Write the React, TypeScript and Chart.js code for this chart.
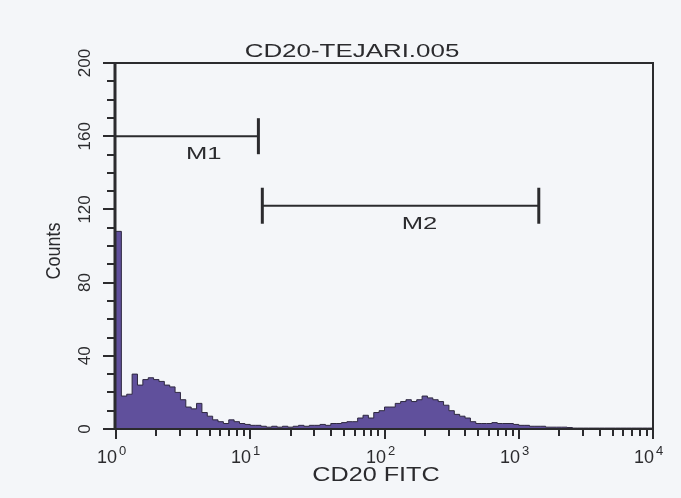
import React, { useEffect, useRef } from 'react';
import { Chart, registerables } from 'chart.js';

Chart.register(...registerables);

// ---- data ----
const title = 'CD20-TEJARI.005';
const xAxisLabel = 'CD20 FITC';
const yAxisLabel = 'Counts';
const binWidthDecades = 0.04; // log-amplifier channel width (4 decades / 100 bins)
const counts = [
  108, 18, 19, 30, 24, 27, 28, 27, 26, 24,
  23, 20, 16, 12, 11, 14, 9, 7, 5, 4,
  3, 5, 4, 3, 2.5, 2, 2, 1.5, 1, 1.5,
  1, 1.5, 1, 1.5, 2, 1.5, 2, 2, 2.5, 2,
  3, 3, 3.5, 4, 4, 6, 7.5, 6, 9, 10,
  12, 12, 14, 15, 16, 15, 16, 18, 17, 16,
  15, 13, 10, 8, 7, 6, 4, 3, 3, 3,
  3.5, 3, 3, 3, 2.5, 2, 2, 1.5, 1.5, 1.5,
  1, 1, 1, 1, 0.8, 0.5, 0.5, 0.5, 0.5, 0.5,
  0.5, 0.5, 0.5, 0.5, 0.5, 0.5, 0.5, 0.5, 0.5, 0.5,
  0,
];
const xMin = 1;
const xMax = 10000;
const xTickExponents = [0, 1, 2, 3, 4];
const xMinorMultipliers = [2, 3, 4, 5, 6, 7, 8, 9];
const yMin = 0;
const yMax = 200;
const yTickLabels = [0, 40, 80, 120, 160, 200];
const yMinorStep = 10;
const markerNames = ['M1', 'M2'];
const markerStarts = [1, 12.3];
const markerEnds = [11.5, 1410];
const markerLevels = [160, 122];
const markerLabelX = [4.5, 182];

// ---- styles ----
const BG = '#f4f6f9';
const INK = '#2b2b2e';
const FILL = 'rgb(96,80,156)';
const EDGE = '#2e2840';
const FONT = '"Liberation Sans", Arial, Helvetica, sans-serif';

function drawText(
  ctx: CanvasRenderingContext2D,
  s: string,
  x: number,
  y: number,
  size: number,
  o: { sx?: number; sy?: number; align?: CanvasTextAlign; baseline?: CanvasTextBaseline; rot?: number } = {}
) {
  ctx.save();
  ctx.translate(x, y);
  if (o.rot) ctx.rotate(o.rot);
  ctx.scale(o.sx ?? 1, o.sy ?? 1);
  ctx.font = `${size}px ${FONT}`;
  ctx.fillStyle = INK;
  ctx.textAlign = o.align ?? 'center';
  ctx.textBaseline = o.baseline ?? 'alphabetic';
  ctx.fillText(s, 0, 0);
  ctx.restore();
}

const overlay = {
  id: 'overlay',
  beforeDraw(chart: any) {
    const { ctx, width, height } = chart;
    ctx.save();
    ctx.fillStyle = BG;
    ctx.fillRect(0, 0, width, height);
    ctx.restore();
  },
  afterDatasetsDraw(chart: any) {
    const { ctx, chartArea: a } = chart;
    const xs = chart.scales.x;
    const ys = chart.scales.y;
    ctx.save();
    ctx.strokeStyle = INK;
    ctx.lineCap = 'butt';

    // frame
    ctx.lineWidth = 2;
    ctx.beginPath();
    ctx.moveTo(a.left, a.top);
    ctx.lineTo(a.right, a.top);
    ctx.lineTo(a.right, a.bottom);
    ctx.lineTo(a.left - 2, a.bottom);
    ctx.stroke();
    ctx.lineWidth = 3;
    ctx.beginPath();
    ctx.moveTo(a.left - 1, a.top - 1);
    ctx.lineTo(a.left - 1, a.bottom + 1);
    ctx.stroke();

    // y ticks
    ctx.lineWidth = 2;
    for (let v = yMin; v <= yMax; v += yMinorStep) {
      const py = Math.round(ys.getPixelForValue(v));
      const major = yTickLabels.includes(v);
      ctx.beginPath();
      ctx.moveTo(a.left - 2, py);
      ctx.lineTo(a.left - 2 - (major ? 11 : 7), py);
      ctx.stroke();
    }
    yTickLabels.forEach((v) => {
      const py = ys.getPixelForValue(v);
      drawText(ctx, String(v), 90, py, 17, { rot: -Math.PI / 2 });
    });

    // x ticks
    xTickExponents.forEach((e) => {
      const base = Math.pow(10, e);
      const px = Math.round(xs.getPixelForValue(base));
      ctx.beginPath();
      ctx.moveTo(px, a.bottom);
      ctx.lineTo(px, a.bottom + 10);
      ctx.stroke();
      if (base < xMax) {
        xMinorMultipliers.forEach((m) => {
          const p = Math.round(xs.getPixelForValue(m * base));
          ctx.beginPath();
          ctx.moveTo(p, a.bottom);
          ctx.lineTo(p, a.bottom + 7);
          ctx.stroke();
        });
      }
      drawText(ctx, '10', px + 1, 463, 18, { align: 'right' });
      drawText(ctx, String(e), px + 3, 455, 13, { align: 'left' });
    });

    // markers
    markerNames.forEach((name, i) => {
      const x0 = xs.getPixelForValue(markerStarts[i]);
      const x1 = xs.getPixelForValue(markerEnds[i]);
      const py = ys.getPixelForValue(markerLevels[i]);
      ctx.lineWidth = 2;
      ctx.beginPath();
      ctx.moveTo(x0, py);
      ctx.lineTo(x1, py);
      ctx.stroke();
      ctx.lineWidth = 3;
      const ends = markerStarts[i] > xMin ? [x0, x1] : [x1];
      ends.forEach((ex) => {
        ctx.beginPath();
        ctx.moveTo(ex, py - 18);
        ctx.lineTo(ex, py + 18);
        ctx.stroke();
      });
      drawText(ctx, name, xs.getPixelForValue(markerLabelX[i]), py + 23, 16, { sx: 1.6 });
    });

    // titles
    drawText(ctx, title, 352, 57, 18, { sx: 1.44 });
    drawText(ctx, xAxisLabel, 376, 481, 20, { sx: 1.26 });
    drawText(ctx, yAxisLabel, 60, 251, 18, { rot: -Math.PI / 2, sy: 1.15 });

    ctx.restore();
  },
};

export default function App() {
  const ref = useRef<HTMLCanvasElement | null>(null);
  useEffect(() => {
    if (!ref.current) return;
    const points = counts.map((c, i) => ({ x: Math.pow(10, i * binWidthDecades), y: c }));
    const chart = new Chart(ref.current, {
      type: 'line',
      data: {
        datasets: [
          {
            data: points,
            stepped: 'before',
            fill: 'origin',
            backgroundColor: FILL,
            borderColor: EDGE,
            borderWidth: 1,
            pointRadius: 0,
          },
        ],
      },
      options: {
        animation: false,
        responsive: false,
        devicePixelRatio: 1,
        layout: { padding: { left: 116, right: 28, top: 63, bottom: 69 } },
        plugins: { legend: { display: false }, tooltip: { enabled: false }, title: { display: false } },
        scales: {
          x: { type: 'logarithmic', min: xMin, max: xMax, display: false },
          y: { type: 'linear', min: yMin, max: yMax, display: false },
        },
      },
      plugins: [overlay],
    } as any);
    return () => chart.destroy();
  }, []);
  return (
    <div style={{ position: 'fixed', left: 0, top: 0, width: 681, height: 498 }}>
      <canvas ref={ref} width={681} height={498} style={{ display: 'block' }} />
    </div>
  );
}
